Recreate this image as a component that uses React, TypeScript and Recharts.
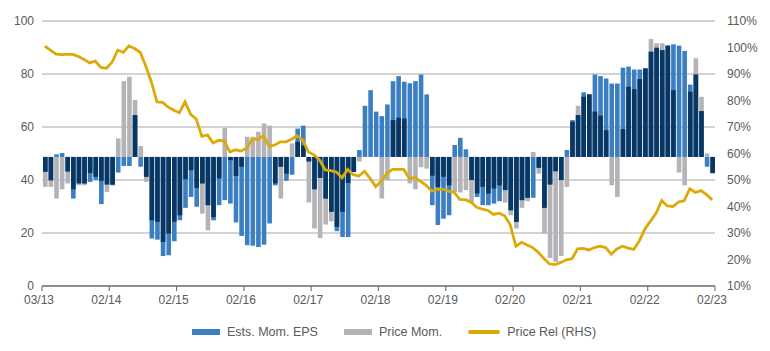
import { Bar, CartesianGrid, ComposedChart, Legend, Line, XAxis, YAxis } from 'recharts';

// Scores sit on a 0-100 scale, bars grow away from the neutral line
const BASE = 48.7;

const tickLabels = ['03/13', '02/14', '02/15', '02/16', '02/17', '02/18', '02/19', '02/20', '02/21', '02/22', '02/23'];

// Ests. Mom. EPS (blue), monthly 03/13 .. 02/23
const estsMom = [
  43.1, 39.9, 49.7, 50.2, 43.2, 33, 38.7, 38.7, 39.3, 40, 30.9, 38.3, 38, 42.8, 45.3, 45.3, 64.5, 45, 41.2, 17.9,
  17.5, 11.3, 11.6, 16.9, 24.8, 29.5, 33.6, 29.9, 38.7, 30.5, 24.8, 30.5, 32.4, 31.1, 24, 18.9, 15.4, 15.2, 14.7, 15.6,
  23.6, 38, 45, 39.7, 42, 59.4, 60.5, 47, 36.5, 40.8, 33, 28, 20.7, 18.5, 18.5, 43, 51.3, 68, 73.9, 65.8,
  64.1, 68.5, 77.3, 79.2, 77.1, 76.5, 77.3, 79.8, 72.3, 30.5, 23, 25.4, 26.7, 53.2, 55.9, 51.6, 40, 33.6, 30.5, 30.5,
  31.1, 32, 36.2, 28.6, 24.2, 32.4, 33.3, 33.3, 44.6, 29.5, 38.3, 43.3, 40, 51.3, 62.6, 64.5, 73.1, 72.3, 79.8, 79.2,
  78.3, 76.4, 76.4, 82.4, 82.8, 81.7, 81.7, 82.1, 88.4, 89.9, 89, 90.7, 91.2, 90.7, 88.7, 76, 79.8, 66, 45, 42.6,
];

// Price Mom. (grey)
const priceMom = [
  37.4, 37.4, 33, 36.5, 38.7, 36.5, 38, 38, 42.6, 41.2, 39.7, 35.5, 38.3, 55.7, 77.3, 79, 70.2, 52.8, 39.3, 24.8,
  24.2, 16.6, 19.8, 24.2, 26.7, 40.3, 43.7, 37, 27.3, 21, 26, 40.6, 59.7, 47.5, 41.5, 45, 56.3, 56.3, 58.2, 61.3,
  60.5, 38.7, 33, 42.4, 53.8, 54.4, 53, 31.5, 21.7, 18.1, 23.2, 24.4, 22.3, 28, 38.9, 43, 47, 48.7, 48.7, 48.7,
  33, 40, 62.6, 63.5, 63.2, 38.7, 36.5, 44.8, 44.3, 41.6, 37.4, 41.2, 38, 35.5, 35.3, 36.2, 31.5, 34.9, 37.4, 34.9,
  36.8, 38, 31.5, 26.7, 21.7, 29.5, 32, 50.6, 42.4, 19.8, 10.6, 9.1, 11.3, 37.4, 62, 68, 71.4, 72.3, 65.8, 64.3,
  58.8, 38, 33.6, 59.2, 75.2, 74.3, 78.1, 82.1, 93.2, 91.6, 91.6, 90.7, 73.9, 42.8, 38, 73.3, 85.9, 71.4, 50, 42.6,
];

// where both signals agree (navy)
const overlap = [
  43.1, 39.9, 48.7, 48.7, 43.2, 36.5, 38.7, 38.7, 42.6, 41.2, 39.7, 38.3, 38.3, 48.7, 48.7, 48.7, 64.5, 48.7, 41.2, 24.8,
  24.2, 16.6, 19.8, 24.2, 26.7, 40.3, 43.7, 37, 38.7, 30.5, 26, 40.6, 48.7, 47.5, 41.5, 45, 48.7, 48.7, 48.7, 48.7,
  48.7, 38.7, 45, 42.4, 48.7, 54.4, 53, 47, 36.5, 40.8, 33, 28, 22.3, 28, 38.9, 43, 48.7, 48.7, 48.7, 48.7,
  48.7, 48.7, 62.6, 63.5, 63.2, 48.7, 48.7, 48.7, 48.7, 41.6, 37.4, 41.2, 38, 48.7, 48.7, 48.7, 40, 34.9, 37.4, 34.9,
  36.8, 38, 36.2, 28.6, 24.2, 32.4, 33.3, 48.7, 44.6, 29.5, 38.3, 43.3, 40, 48.7, 62, 64.5, 71.4, 72.3, 65.8, 64.3,
  58.8, 48.7, 48.7, 59.2, 75.2, 74.3, 78.1, 82.1, 88.4, 89.9, 89, 90.7, 73.9, 48.7, 48.7, 73.3, 79.8, 66, 48.7, 42.6,
];

// Price Rel (RHS), %
const priceRel = [
  100.5, 99, 97.5, 97.3, 97.4, 97.4, 96.6, 95.5, 94.2, 94.9, 92.5, 92.2, 94.5, 99, 98.2, 100.6, 99.6, 98.2, 93, 87,
  79.5, 79.3, 77.5, 76.3, 75.4, 79.5, 74.8, 73, 66.5, 67, 64, 65, 64.7, 60.6, 61.4, 60.9, 62, 65.5, 65.3, 66.7,
  62.7, 63.2, 64.4, 64.4, 65.4, 66.7, 65, 60.6, 59.5, 57.5, 53.8, 53.5, 53, 50.8, 54, 52, 51.5, 53.3, 50.6, 47.5,
  49.5, 52.5, 54, 54, 54, 50.6, 50.9, 49.5, 48, 45.8, 46.5, 46.5, 45.8, 45.3, 42.7, 42.6, 41.6, 39.7, 39, 38.5,
  37, 37.5, 36.5, 33, 25, 26.5, 25.5, 24.5, 22.7, 20.4, 18.3, 18.1, 18.9, 19.9, 20.3, 24, 24.2, 23.6, 24.5, 25,
  24.5, 22, 24, 25, 24.3, 23.8, 27, 31.5, 34.5, 37.5, 42.2, 40.2, 40, 41.7, 42.2, 46.7, 45.3, 46, 44.5, 42.5,
];

const rows = estsMom.map((v, i) => ({
  x: i + 0.5,
  ests: [BASE, v],
  price: [BASE, priceMom[i]],
  both: [BASE, overlap[i]],
  rel: priceRel[i],
}));

const NAVY = '#083764';
const BLUE = '#3b7ec2';
const GREY = '#b3b3b8';
const GOLD = '#dcaa08';
const TEXT = '#5a5a5a';
const FONT = '"Liberation Sans", Arial, sans-serif';

const tick = { fontSize: 12, fill: TEXT, fontFamily: FONT };

function ChartLegend() {
  const items = [
    { label: 'Ests. Mom. EPS', color: BLUE, line: false },
    { label: 'Price Mom.', color: GREY, line: false },
    { label: 'Price Rel (RHS)', color: GOLD, line: true },
  ];
  return (
    <div
      style={{
        display: 'flex',
        justifyContent: 'center',
        alignItems: 'center',
        gap: 26,
        height: 20,
        paddingLeft: 18,
        fontSize: 12.5,
        color: TEXT,
        fontFamily: FONT,
      }}
    >
      {items.map((it) => (
        <div key={it.label} style={{ display: 'flex', alignItems: 'center', gap: 7 }}>
          {it.line ? (
            <span style={{ width: 32, height: 4, borderRadius: 2, background: it.color }} />
          ) : (
            <span style={{ width: 28, height: 6, background: it.color }} />
          )}
          <span>{it.label}</span>
        </div>
      ))}
    </div>
  );
}

export default function App() {
  return (
    <div style={{ position: 'absolute', left: 0, top: 0, width: 770, height: 351, background: '#fff', fontFamily: FONT }}>
      <ComposedChart width={770} height={351} data={rows} margin={{ top: 21, right: 0, bottom: 9, left: 0 }} barGap={-4.6}>
        <CartesianGrid yAxisId="l" vertical={false} stroke="#a8a8a8" />
        <XAxis
          dataKey="x"
          type="number"
          domain={[0, 120]}
          ticks={[0, 12, 24, 36, 48, 60, 72, 84, 96, 108, 120]}
          tickFormatter={(v: number) => tickLabels[Math.round(v / 12)]}
          interval={0}
          height={36}
          tick={{ ...tick, dx: -3 }}
          tickSize={5}
          tickMargin={4}
          axisLine={{ stroke: '#777', strokeWidth: 1.5 }}
          tickLine={{ stroke: '#777', strokeWidth: 1.2 }}
        />
        <YAxis
          yAxisId="l"
          domain={[0, 100]}
          ticks={[0, 20, 40, 60, 80, 100]}
          width={42}
          tick={tick}
          axisLine={false}
          tickLine={false}
        />
        <YAxis
          yAxisId="r"
          orientation="right"
          domain={[10, 110]}
          ticks={[10, 20, 30, 40, 50, 60, 70, 80, 90, 100, 110]}
          tickFormatter={(v: number) => `${v}%`}
          width={55}
          tick={tick}
          tickMargin={6}
          axisLine={false}
          tickLine={false}
        />
        <Legend verticalAlign="bottom" content={() => <ChartLegend />} />
        <Bar yAxisId="l" dataKey="price" fill={GREY} barSize={4.6} isAnimationActive={false} />
        <Bar yAxisId="l" dataKey="ests" fill={BLUE} barSize={4.6} isAnimationActive={false} />
        <Bar yAxisId="l" dataKey="both" fill={NAVY} barSize={4.6} isAnimationActive={false} />
        <Line yAxisId="r" dataKey="rel" type="linear" stroke={GOLD} strokeWidth={2.8} dot={false} isAnimationActive={false} />
      </ComposedChart>
    </div>
  );
}
